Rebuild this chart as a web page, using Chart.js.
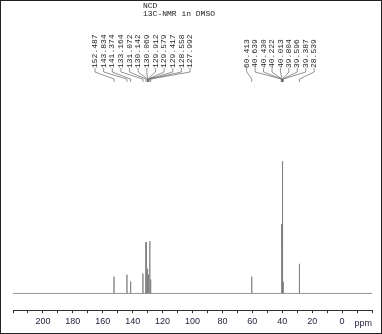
<!DOCTYPE html>
<html>
<head>
<meta charset="utf-8">
<script src="https://cdn.jsdelivr.net/npm/chart.js@4/dist/chart.umd.min.js"></script>
<style>
html,body{margin:0;padding:0;background:#fff;}
canvas{display:block;}
</style>
</head>
<body>
<canvas id="c" width="382" height="334"></canvas>
<script>
// ---- data ----
const titleLines = ["NCD", "13C-NMR in DMSO"];
const aromaticShifts = [152.487, 143.834, 141.374, 133.164, 131.072, 130.142, 130.069, 129.912, 129.579, 129.417, 128.558, 127.992];
const aromaticHeights = [17, 19, 12, 20, 52, 22, 20, 25, 19, 17, 53, 14];
const aliphaticShifts = [60.413, 40.639, 40.430, 40.222, 40.013, 39.804, 39.596, 39.387, 28.539];
const aliphaticHeights = [17, 12, 40, 70, 134, 70, 40, 12, 30];
const axisMin = -20;
const axisMax = 220;
const axisUnit = "ppm";

// ---- build stick spectrum from peak lists ----
const allPeaks = aromaticShifts.map((s, i) => ({ s, h: aromaticHeights[i] }))
  .concat(aliphaticShifts.map((s, i) => ({ s, h: aliphaticHeights[i] })))
  .sort((a, b) => b.s - a.s);
const spectrum = [{ x: axisMax, y: 0 }];
allPeaks.forEach(p => {
  spectrum.push({ x: p.s + 0.06, y: 0 });
  spectrum.push({ x: p.s, y: p.h });
  spectrum.push({ x: p.s - 0.06, y: 0 });
});
spectrum.push({ x: axisMin, y: 0 });

const labelGroups = [
  { shifts: aromaticShifts, start: 95, step: 8.64 },
  { shifts: aliphaticShifts, start: 246.7, step: 8.43 }
];

const annot = {
  id: 'annot',
  afterDraw(chart) {
    const ctx = chart.ctx;
    const xs = chart.scales.x;
    ctx.save();
    // frame
    ctx.strokeStyle = '#222';
    ctx.lineWidth = 1;
    ctx.strokeRect(0.5, 0.5, 381, 333);
    // title
    ctx.fillStyle = '#222';
    ctx.font = '8px "Liberation Mono", "DejaVu Sans Mono", monospace';
    ctx.textAlign = 'left';
    ctx.textBaseline = 'middle';
    ctx.fillText(titleLines[0], 143, 6);
    ctx.fillText(titleLines[1], 143, 14);
    // peak labels + connectors
    ctx.strokeStyle = '#666';
    ctx.lineWidth = 0.7;
    labelGroups.forEach(g => {
      g.shifts.forEach((s, i) => {
        const lx = g.start + i * g.step;
        ctx.save();
        ctx.translate(lx, 68);
        ctx.rotate(-Math.PI / 2);
        ctx.fillStyle = '#222';
        ctx.fillText(s.toFixed(3), 0, 0);
        ctx.restore();
        const px = xs.getPixelForValue(s);
        ctx.beginPath();
        ctx.moveTo(lx, 68);
        ctx.lineTo(lx, 72);
        ctx.lineTo(px, 79);
        ctx.lineTo(px, 82);
        ctx.stroke();
      });
    });
    // unit label
    ctx.fillStyle = '#1c1c3c';
    ctx.font = '9px "Liberation Sans", Arial, sans-serif';
    ctx.textAlign = 'right';
    ctx.textBaseline = 'middle';
    ctx.fillText(axisUnit, xs.right, 324);
    ctx.restore();
  }
};

new Chart(document.getElementById('c'), {
  type: 'line',
  data: {
    datasets: [{
      data: spectrum,
      borderColor: '#7a7a7a',
      borderWidth: 0.8,
      pointRadius: 0,
      tension: 0,
      fill: false
    }]
  },
  options: {
    responsive: false,
    animation: false,
    devicePixelRatio: 1,
    layout: { padding: { left: 13, right: 10, top: 100, bottom: 4 } },
    plugins: { legend: { display: false }, tooltip: { enabled: false }, title: { display: false } },
    scales: {
      x: {
        type: 'linear',
        reverse: true,
        min: axisMin,
        max: axisMax,
        border: { display: true, color: '#333', width: 1 },
        grid: { drawOnChartArea: false, drawTicks: true, tickLength: 3, color: '#333' },
        ticks: {
          stepSize: 10,
          autoSkip: false,
          maxRotation: 0,
          padding: 3,
          color: '#1c1c3c',
          font: { size: 9, family: '"Liberation Sans", Arial, sans-serif' },
          callback: v => (v % 20 === 0 && v >= 0 && v <= 200) ? String(v) : ''
        }
      },
      y: { display: false, min: -17, max: 196 }
    }
  },
  plugins: [annot]
});
</script>
</body>
</html>
